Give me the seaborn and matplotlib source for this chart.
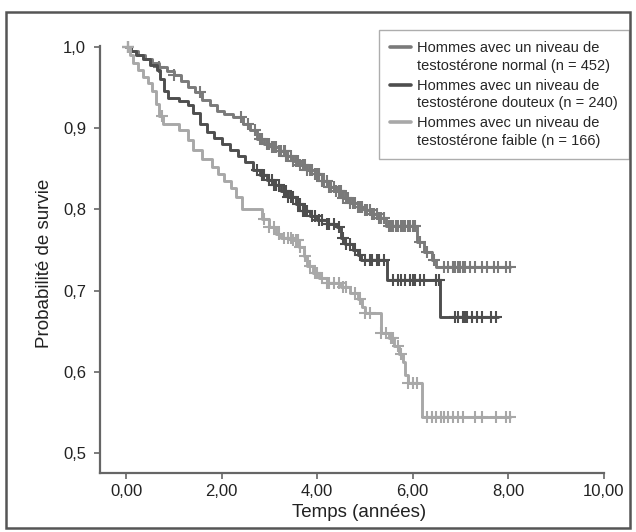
import numpy as np
import pandas as pd
import matplotlib
matplotlib.use("Agg")
import matplotlib.pyplot as plt
import seaborn as sns
from matplotlib.patches import Rectangle
from matplotlib.lines import Line2D
from matplotlib.legend_handler import HandlerLine2D

# Kaplan-Meier steps (time in years, survival after the step)
normal_t = [0.0, 0.1, 0.25, 0.4, 0.55, 0.7, 0.85, 1.0, 1.15, 1.3, 1.45, 1.6, 1.75, 1.9,
            2.05, 2.25, 2.45, 2.6, 2.75, 2.9, 3.05, 3.2, 3.35, 3.5, 3.65, 3.8, 3.95,
            4.1, 4.25, 4.4, 4.55, 4.7, 4.85, 5.0, 5.15, 5.3, 5.45, 6.1, 6.25, 6.4,
            6.5, 8.05]
normal_s = [1.0, 0.995, 0.99, 0.985, 0.98, 0.975, 0.97, 0.965, 0.958, 0.95, 0.944,
            0.935, 0.928, 0.921, 0.917, 0.914, 0.905, 0.897, 0.887, 0.88, 0.877,
            0.872, 0.866, 0.86, 0.855, 0.848, 0.843, 0.835, 0.828, 0.822, 0.814,
            0.808, 0.803, 0.799, 0.794, 0.789, 0.779, 0.76, 0.748, 0.738, 0.729,
            0.729]
normal_cens = [0.05, 0.7, 1.0, 1.55, 2.4, 2.55, 2.7, 2.8, 2.85, 2.95, 3.0, 3.05,
               3.1, 3.13, 3.15, 3.2, 3.23, 3.25, 3.3, 3.33, 3.35, 3.4, 3.45, 3.5,
               3.55, 3.6, 3.65, 3.7, 3.75, 3.8, 3.85, 3.9, 3.95, 4.0, 4.05, 4.1,
               4.15, 4.2, 4.25, 4.3, 4.35, 4.4, 4.45, 4.5, 4.55, 4.6, 4.65, 4.7,
               4.75, 4.8, 4.85, 4.9, 4.95, 5.0, 5.05, 5.1, 5.15, 5.2, 5.25, 5.3,
               5.35, 5.4, 5.5, 5.55, 5.6, 5.65, 5.7, 5.75, 5.8, 5.85, 5.9, 5.95,
               6.0, 6.05, 6.15, 6.3, 6.45, 6.65, 6.75, 6.85, 6.9, 6.95, 7.0, 7.05,
               7.1, 7.2, 7.3, 7.45, 7.55, 7.7, 7.8, 7.95, 8.05]

douteux_t = [0.0, 0.1, 0.2, 0.35, 0.5, 0.65, 0.72, 0.8, 0.88, 1.1, 1.3, 1.4, 1.55,
             1.7, 1.85, 2.0, 2.18, 2.35, 2.5, 2.65, 2.8, 2.95, 3.1, 3.25, 3.4, 3.55,
             3.7, 3.85, 4.0, 4.2, 4.42, 4.5, 4.58, 4.75, 4.85, 4.92, 5.47, 6.58,
             7.8]
douteux_s = [1.0, 0.995, 0.99, 0.985, 0.978, 0.972, 0.96, 0.945, 0.937, 0.933,
             0.928, 0.918, 0.905, 0.895, 0.888, 0.88, 0.873, 0.865, 0.858, 0.848,
             0.842, 0.836, 0.83, 0.822, 0.815, 0.806, 0.798, 0.792, 0.787, 0.782,
             0.778, 0.765, 0.757, 0.75, 0.744, 0.738, 0.713, 0.667, 0.667]
douteux_cens = [0.05, 2.75, 2.85, 2.9, 3.0, 3.05, 3.1, 3.15, 3.2, 3.3, 3.35, 3.4,
                3.45, 3.5, 3.6, 3.65, 3.7, 3.75, 3.8, 3.9, 3.95, 4.05, 4.1, 4.2,
                4.25, 4.35, 4.45, 4.55, 4.6, 4.7, 4.8, 4.9, 5.0, 5.1, 5.15, 5.25,
                5.3, 5.4, 5.6, 5.7, 5.75, 5.85, 5.95, 6.0, 6.05, 6.15, 6.25, 6.5,
                6.55, 6.9, 6.95, 7.05, 7.1, 7.15, 7.25, 7.35, 7.45, 7.65, 7.75]

faible_t = [0.0, 0.08, 0.15, 0.25, 0.35, 0.45, 0.55, 0.62, 0.7, 0.78, 1.1, 1.3, 1.4,
            1.6, 1.8, 1.92, 2.05, 2.2, 2.3, 2.42, 2.85, 3.0, 3.15, 3.25, 3.5, 3.62,
            3.72, 3.8, 3.92, 4.05, 4.2, 4.5, 4.7, 4.85, 4.95, 5.0, 5.35, 5.5, 5.62,
            5.72, 5.8, 5.85, 5.9, 6.2, 8.05]
faible_s = [1.0, 0.99, 0.98, 0.972, 0.963, 0.955, 0.945, 0.93, 0.915, 0.905, 0.898,
            0.885, 0.873, 0.862, 0.852, 0.843, 0.835, 0.826, 0.815, 0.8, 0.788,
            0.778, 0.77, 0.765, 0.762, 0.754, 0.742, 0.73, 0.722, 0.716, 0.709,
            0.704, 0.697, 0.689, 0.68, 0.672, 0.648, 0.642, 0.632, 0.622, 0.612,
            0.596, 0.586, 0.544, 0.544]
faible_cens = [0.05, 0.75, 2.9, 3.0, 3.1, 3.2, 3.3, 3.4, 3.45, 3.5, 3.55, 3.6,
               3.65, 3.75, 3.85, 3.95, 4.0, 4.1, 4.2, 4.25, 4.35, 4.45, 4.55, 4.6,
               4.8, 4.9, 5.0, 5.1, 5.35, 5.45, 5.55, 5.6, 5.7, 5.75, 5.9, 6.0,
               6.1, 6.3, 6.4, 6.5, 6.6, 6.65, 6.75, 6.85, 6.95, 7.05, 7.3, 7.45,
               7.75, 7.95, 8.05]

labels = ["Hommes avec un niveau de\ntestostérone normal (n = 452)",
          "Hommes avec un niveau de\ntestostérone douteux (n = 240)",
          "Hommes avec un niveau de\ntestostérone faible (n = 166)"]
colors = ["#7a7a7a", "#4e4e4e", "#a8a8a8"]

x_ticks = [0, 2, 4, 6, 8, 10]
y_ticks = [0.5, 0.6, 0.7, 0.8, 0.9, 1.0]

sns.set_style("white")
plt.rcParams["font.family"] = ["Liberation Sans", "DejaVu Sans"]

fig = plt.figure(figsize=(6.36, 5.32), dpi=100)
ax = fig.add_axes([100 / 636, 59 / 532, 503.5 / 636, 427 / 532])

curves = [(normal_t, normal_s, normal_cens),
          (douteux_t, douteux_s, douteux_cens),
          (faible_t, faible_s, faible_cens)]

for (t, s, cens), lab, col in zip(curves, labels, colors):
    df = pd.DataFrame({"t": t, "s": s})
    sns.lineplot(data=df, x="t", y="s", drawstyle="steps-post", estimator=None,
                 sort=False, color=col, lw=2.1, label=lab, ax=ax, clip_on=False)
    # censor marks sit on the step curve
    idx = np.searchsorted(t, cens, side="right") - 1
    ys = np.array(s)[idx]
    ax.plot(cens, ys, ls="none", marker="+", ms=8, mew=1.5, color=col,
            clip_on=False)

ax.set_xlim(-0.545, 10)
ax.set_ylim(0.4754, 1.001)
ax.set_xticks(x_ticks)
ax.set_xticklabels([f"{v:.2f}".replace(".", ",") for v in x_ticks])
ax.set_yticks(y_ticks)
ax.set_yticklabels([f"{v:.1f}".replace(".", ",") for v in y_ticks])
ax.tick_params(axis="both", direction="out", length=4, width=1.2, color="#666666",
               labelsize=12, labelcolor="#222222", bottom=True, left=True)
ax.tick_params(axis="y", pad=6)
ax.tick_params(axis="x", pad=4)

for side in ["top", "right"]:
    ax.spines[side].set_visible(False)
for side in ["left", "bottom"]:
    ax.spines[side].set_color("#666666")
    ax.spines[side].set_linewidth(1.6)

ax.set_xlabel("Temps (années)", fontsize=13.5, color="#222222")
ax.set_ylabel("Probabilité de survie", fontsize=13.5, color="#222222")
ax.xaxis.set_label_coords(0.515, -0.073)
ax.yaxis.set_label_coords(-0.093, 0.49)


def first_line_handle(leg_line, orig):
    leg_line.update_from(orig)
    leg_line.set_ydata(np.asarray(leg_line.get_ydata()) + 7.5)


leg = ax.legend(loc="upper right", bbox_to_anchor=(629 / 636, 502 / 532),
                bbox_transform=fig.transFigure, borderaxespad=0, fancybox=False,
                frameon=True, fontsize=10.5, handlelength=1.4, handletextpad=0.45,
                labelspacing=0.4, borderpad=0.75,
                handler_map={Line2D: HandlerLine2D(update_func=first_line_handle)})
leg.get_frame().set_edgecolor("#999999")
leg.get_frame().set_linewidth(1.0)
for line in leg.get_lines():
    line.set_linewidth(2.6)
for txt in leg.get_texts():
    txt.set_linespacing(1.35)

# outer frame around the whole picture
fig.patches.append(Rectangle((6 / 636, 4 / 532), 624 / 636, 516 / 532,
                             transform=fig.transFigure, fill=False,
                             edgecolor="#555555", linewidth=1.8))

fig.savefig("out.png", dpi=100)
